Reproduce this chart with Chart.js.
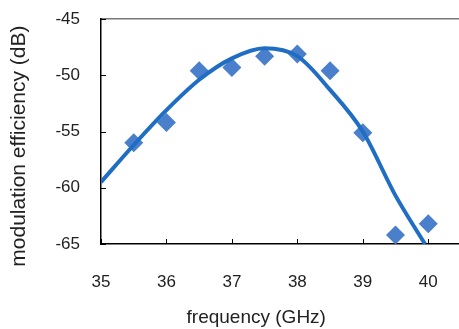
<!DOCTYPE html>
<html>
<head>
<meta charset="utf-8">
<script src="https://cdn.jsdelivr.net/npm/chart.js@4"></script>
<style>
  html, body { margin: 0; padding: 0; background: #fff; }
  #wrap { width: 459px; height: 329px; }
</style>
</head>
<body>
<div id="wrap"><canvas id="effChart" width="459" height="329"></canvas></div>
<script>
// measured points (diamonds)
const freqMeasured = [35.5, 36, 36.5, 37, 37.5, 38, 38.5, 39, 39.5, 40];
const effMeasured = [-56.0, -54.2, -49.6, -49.3, -48.3, -48.1, -49.6, -55.1, -64.2, -63.2];

// fitted curve
const freqFit = [35, 35.5, 36, 36.5, 37, 37.5, 38, 38.5, 39, 39.5, 39.95];
const effFit = [-59.5, -56.2, -53.1, -50.4, -48.5, -47.6, -48.3, -51.3, -55.0, -60.7, -65.0];

const xTicks = [35, 36, 37, 38, 39, 40];
const yTicks = [-65, -60, -55, -50, -45];

const toXY = (xs, ys) => xs.map((x, i) => ({ x: x, y: ys[i] }));

// short tick marks pointing into the plot
const innerTicks = {
  id: 'innerTicks',
  afterDraw(chart) {
    const ctx = chart.ctx;
    const xs = chart.scales.x, ys = chart.scales.y;
    ctx.save();
    ctx.strokeStyle = '#000';
    ctx.lineWidth = 1;
    ctx.beginPath();
    xs.ticks.forEach((t, i) => {
      const px = Math.round(xs.getPixelForTick(i)) + 0.5;
      ctx.moveTo(px, ys.bottom);
      ctx.lineTo(px, ys.bottom - 5);
    });
    ys.ticks.forEach((t, i) => {
      const py = Math.round(ys.getPixelForTick(i)) + 0.5;
      ctx.moveTo(xs.left, py);
      ctx.lineTo(xs.left + 5, py);
    });
    ctx.stroke();
    ctx.restore();
  }
};

const ctx = document.getElementById('effChart').getContext('2d');

new Chart(ctx, {
  data: {
    datasets: [
      {
        type: 'line',
        data: toXY(freqFit, effFit),
        borderColor: '#1f6ec4',
        borderWidth: 4,
        pointRadius: 0,
        cubicInterpolationMode: 'monotone',
        fill: false,
        order: 0
      },
      {
        type: 'scatter',
        data: toXY(freqMeasured, effMeasured),
        backgroundColor: '#4a7fcb',
        borderWidth: 0,
        pointStyle: 'rectRot',
        pointRadius: 9.5,
        order: 1
      }
    ]
  },
  options: {
    responsive: false,
    animation: false,
    layout: { autoPadding: false, padding: { top: 19, right: 0, left: 0, bottom: 0 } },
    plugins: {
      legend: { display: false },
      tooltip: { enabled: false }
    },
    scales: {
      x: {
        type: 'linear',
        min: 35,
        max: 40.47,
        afterBuildTicks: s => { s.ticks = xTicks.map(v => ({ value: v })); },
        afterFit: s => { s.height = 85; s.paddingLeft = 0; s.paddingRight = 0; },
        grid: { display: false, drawTicks: false },
        border: { color: '#000', width: 1.5 },
        ticks: {
          padding: 28,
          color: '#222',
          font: { family: 'Liberation Sans, Arial, sans-serif', size: 17 }
        },
        title: {
          display: true,
          text: 'frequency (GHz)         ',
          color: '#222',
          padding: { top: 0, bottom: 0 },
          font: { family: 'Liberation Sans, Arial, sans-serif', size: 19 }
        }
      },
      x2: {
        type: 'linear',
        position: 'top',
        min: 35,
        max: 40.47,
        afterFit: s => { s.height = 0; s.paddingLeft = 0; s.paddingRight = 0; },
        grid: { display: false, drawTicks: false },
        border: { color: '#777', width: 1.5 },
        ticks: { display: false }
      },
      y: {
        min: -65,
        max: -45,
        afterBuildTicks: s => { s.ticks = yTicks.map(v => ({ value: v })); },
        afterFit: s => { s.width = 101; s.paddingTop = 0; s.paddingBottom = 0; },
        grid: { display: false, drawTicks: false },
        border: { color: '#000', width: 1.5 },
        ticks: {
          padding: 21,
          color: '#222',
          font: { family: 'Liberation Sans, Arial, sans-serif', size: 17 }
        },
        title: {
          display: true,
          text: 'modulation efficiency (dB)     ',
          color: '#222',
          padding: { top: 7, bottom: 0 },
          font: { family: 'Liberation Sans, Arial, sans-serif', size: 21 }
        }
      }
    }
  },
  plugins: [innerTicks]
});
</script>
</body>
</html>
